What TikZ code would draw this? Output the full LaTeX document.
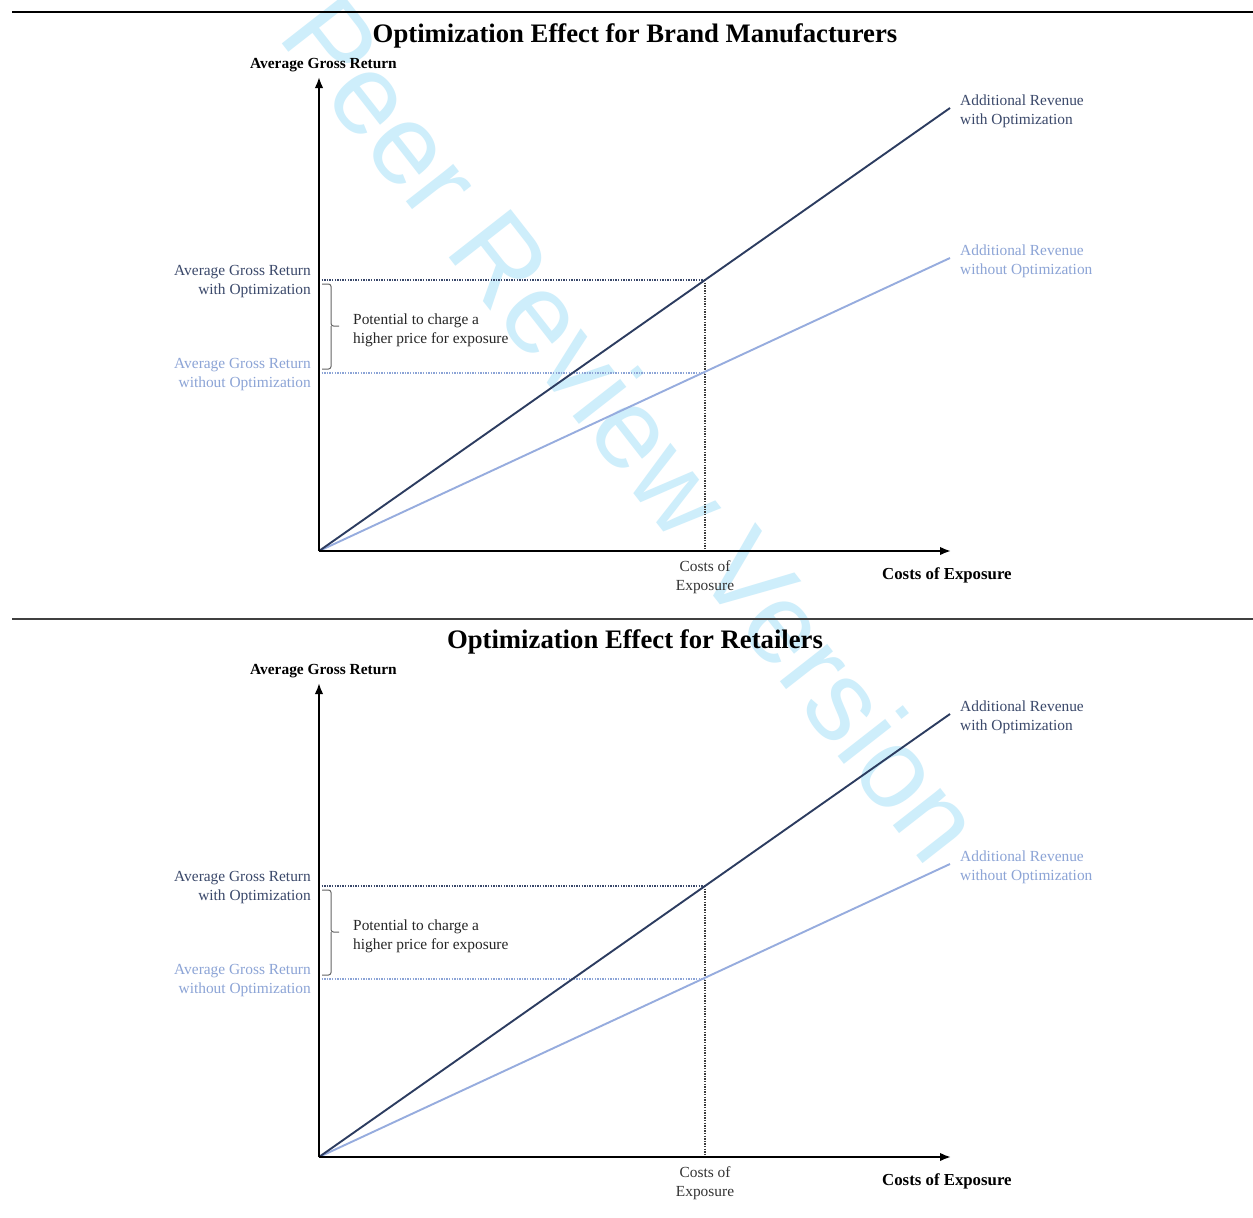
\documentclass[tikz,border=0pt]{standalone}
\usepackage{fontspec}
\setmainfont{Liberation Serif}
\newfontfamily\wmfont{Liberation Sans}
\usetikzlibrary{arrows.meta}

\definecolor{optdark}{RGB}{44,60,96}
\definecolor{optlight}{RGB}{150,172,222}
\definecolor{labdark}{RGB}{58,72,106}
\definecolor{lablight}{RGB}{140,164,214}
\definecolor{wmcyan}{RGB}{206,238,251}
\definecolor{rulegray}{RGB}{64,64,64}
\definecolor{guidegray}{RGB}{60,60,60}
\definecolor{bracegray}{RGB}{100,100,100}

\tikzset{
  axisline/.style={line width=1.9pt, black, -{Latex[length=11pt,width=8.5pt]}},
  revline/.style={line width=1.9pt},
  guide/.style={line width=1.6pt, dash pattern=on 1.3pt off 1.3pt},
  lbl/.style={font=\fontsize{15.4}{19}\selectfont, inner sep=0pt},
  ylbl/.style={font=\bfseries\fontsize{15.4}{19}\selectfont, inner sep=0pt},
  xlbl/.style={font=\bfseries\fontsize{16.8}{19}\selectfont, inner sep=0pt},
  titletext/.style={font=\bfseries\fontsize{26.7}{30}\selectfont, inner sep=0pt},
  wm/.style={font=\wmfont\fontsize{114}{114}\selectfont, text=wmcyan, inner sep=0pt, rotate=-52}
}

% One chart: #1 name prefix, #2 title, #3 downward shift in pt
\newcommand\optpanel[3]{%
\begin{scope}[yshift=-#3pt]
  \node[titletext] (#1title) at (635,36) {#2};
  \coordinate (#1O) at (319,551);
  \coordinate (#1ytop) at (319,77);
  \coordinate (#1xend) at (951,551);
  \coordinate (#1hi) at (950,108);
  \coordinate (#1lo) at (950,258);
  \coordinate (#1P) at (705,280);
  \coordinate (#1Q) at (705,373);
  \coordinate (#1Py) at (319,280);
  \coordinate (#1Qy) at (319,373);
  \coordinate (#1Px) at (705,551);
  % guide lines
  \draw[guide, labdark] (#1Py) -- (#1P);
  \draw[guide, lablight] (#1Qy) -- (#1Q);
  \draw[guide, guidegray] (#1P) -- (#1Px);
  % revenue lines
  \draw[revline, optlight] (#1O) -- (#1lo);
  \draw[revline, optdark] (#1O) -- (#1hi);
  % axes
  \draw[axisline] (#1O) -- (#1ytop);
  \draw[axisline] (#1O) -- (#1xend);
  % bracket
  \draw[bracegray, line width=1pt, rounded corners=2.5pt]
    (322,284) -- (331,284) -- (331,326) -- (339,326)
    (331,326) -- (331,369) -- (322,369);
  % labels
  \node[ylbl, anchor=west] (#1ylab) at (250,65) {Average Gross Return};
  \node[xlbl, anchor=west] (#1xlab) at (882,575) {Costs of Exposure};
  \node[lbl, align=right, anchor=east, text=labdark] (#1hilab) at (311,282)
    {Average Gross Return\\with Optimization};
  \node[lbl, align=right, anchor=east, text=lablight] (#1lolab) at (311,375)
    {Average Gross Return\\without Optimization};
  \node[lbl, align=left, anchor=west, text=black!85] (#1pot) at (353,330)
    {Potential to charge a\\higher price for exposure};
  \node[lbl, align=center, text=black!80] (#1cost) at (705,577)
    {Costs of\\Exposure};
  \node[lbl, align=left, anchor=west, text=labdark] (#1hirev) at (960,111)
    {Additional Revenue\\with Optimization};
  \node[lbl, align=left, anchor=west, text=lablight] (#1lorev) at (960,261)
    {Additional Revenue\\without Optimization};
\end{scope}}

\begin{document}
\begin{tikzpicture}[x=1pt, y=-1pt]
  \useasboundingbox (0,0) rectangle (1253,1218);
  \fill[white] (0,0) rectangle (1253,1218);
  % watermark behind the charts
  \node[wm] (wmark) at (634,428) {Peer Review Version};
  % separating rules
  \coordinate (r1a) at (12,12);
  \coordinate (r1b) at (1253,12);
  \coordinate (r2a) at (12,619);
  \coordinate (r2b) at (1253,619);
  \draw[line width=1.3pt, black] (r1a) -- (r1b);
  \draw[line width=1.8pt, rulegray] (r2a) -- (r2b);
  \optpanel{a}{Optimization Effect for Brand Manufacturers}{0}
  \optpanel{b}{Optimization Effect for Retailers}{606}
\end{tikzpicture}
\end{document}
